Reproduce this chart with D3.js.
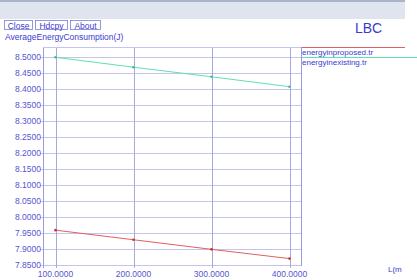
<!DOCTYPE html>
<html><head><meta charset="utf-8">
<script src="https://cdn.jsdelivr.net/npm/d3@7"></script>
<style>body{margin:0;background:#fff;overflow:hidden}svg{display:block;font-family:"Liberation Sans",Arial,sans-serif}</style>
</head><body><svg id="c" width="417" height="280"></svg>
<script>
const xValues = [100, 200, 300, 400];
const proposed = [7.959, 7.929, 7.899, 7.870];
const existing = [8.500, 8.469, 8.439, 8.408];
const yTicks = [8.5, 8.45, 8.4, 8.35, 8.3, 8.25, 8.2, 8.15, 8.1, 8.05, 8.0, 7.95, 7.9, 7.85];
const seriesNames = ["energyinproposed.tr", "energyinexisting.tr"];
const buttons = ["Close", "Hdcpy", "About"];

(function(){
const svg = d3.select("#c");
const blue = "#3b3bd0";
svg.append("rect").attr("x",0).attr("y",0).attr("width",405).attr("height",19).attr("fill","#dfe4ee");
svg.append("rect").attr("x",0).attr("y",0).attr("width",405).attr("height",2).attr("fill","#aab6c8");

let bx = 4;
const bw = [28, 32, 30];
buttons.forEach((b,i)=>{
  svg.append("rect").attr("x",bx+0.5).attr("y",20.5).attr("width",bw[i]).attr("height",9).attr("fill","none").attr("stroke","#7a7ad8").attr("stroke-width",0.8);
  svg.append("text").attr("x",bx+bw[i]/2+0.5).attr("y",28.5).attr("text-anchor","middle").attr("font-size",8.5).attr("fill",blue).text(b);
  bx += bw[i] + 3;
});
svg.append("text").attr("x",5).attr("y",40).attr("font-size",8.5).attr("fill",blue).text("AverageEnergyConsumption(J)");
svg.append("text").attr("x",355).attr("y",33).attr("font-size",14).attr("fill",blue).text("LBC");

const pL=43, pR=301, pT=47, pB=266;
const x = d3.scaleLinear().domain([100,400]).range([55.5,289.5]);
const y = d3.scaleLinear().domain([7.85,8.5]).range([265,57.3]);

const g = svg.append("g");
yTicks.forEach(t=>{
  g.append("line").attr("x1",pL-3).attr("x2",pR).attr("y1",Math.round(y(t))+0.5).attr("y2",Math.round(y(t))+0.5)
   .attr("stroke","#c4c4ee").attr("stroke-width",1);
  g.append("text").attr("x",pL-2).attr("y",y(t)+3).attr("text-anchor","end").attr("font-size",8.5).attr("fill","#5555d0").text(d3.format(".4f")(t));
});
xValues.forEach(t=>{
  g.append("line").attr("x1",Math.round(x(t))+0.5).attr("x2",Math.round(x(t))+0.5).attr("y1",pT).attr("y2",pB+2)
   .attr("stroke","#a8a8e0").attr("stroke-width",1);
  g.append("text").attr("x",x(t)).attr("y",277).attr("text-anchor","middle").attr("font-size",8.5).attr("fill","#5555d0").text(d3.format(".4f")(t));
});
g.append("line").attr("x1",pL+0.5).attr("x2",pL+0.5).attr("y1",pT).attr("y2",pB+2).attr("stroke","#9a9ad8");
g.append("line").attr("x1",pR+0.5).attr("x2",pR+0.5).attr("y1",pT).attr("y2",pB).attr("stroke","#9a9ad8");
g.append("line").attr("x1",pL).attr("x2",pR).attr("y1",pT+0.5).attr("y2",pT+0.5).attr("stroke","#c4c4ee");

svg.append("text").attr("x",388).attr("y",272).attr("font-size",8).attr("fill",blue).text("L(m");

const colors = ["#e06060", "#5fe0b0"];
const line = d3.line().x((d,i)=>x(xValues[i])).y(d=>y(d));
[proposed, existing].forEach((s,k)=>{
  svg.append("path").attr("d",line(s)).attr("fill","none").attr("stroke",colors[k]).attr("stroke-width",1);
  svg.selectAll(null).data(s).enter().append("circle").attr("cx",(d,i)=>x(xValues[i])).attr("cy",d=>y(d)).attr("r",1.3).attr("fill",k==0?"#d03030":"#40c090");
});

seriesNames.forEach((n,k)=>{
  const ly = k==0 ? 47.5 : 57.5;
  svg.append("line").attr("x1",302).attr("x2",k==0?405:417).attr("y1",ly).attr("y2",ly).attr("stroke",colors[k]).attr("stroke-width",1);
  svg.append("text").attr("x",302).attr("y",ly+7).attr("font-size",8).attr("fill",blue).text(n);
});
})();
</script></body></html>
